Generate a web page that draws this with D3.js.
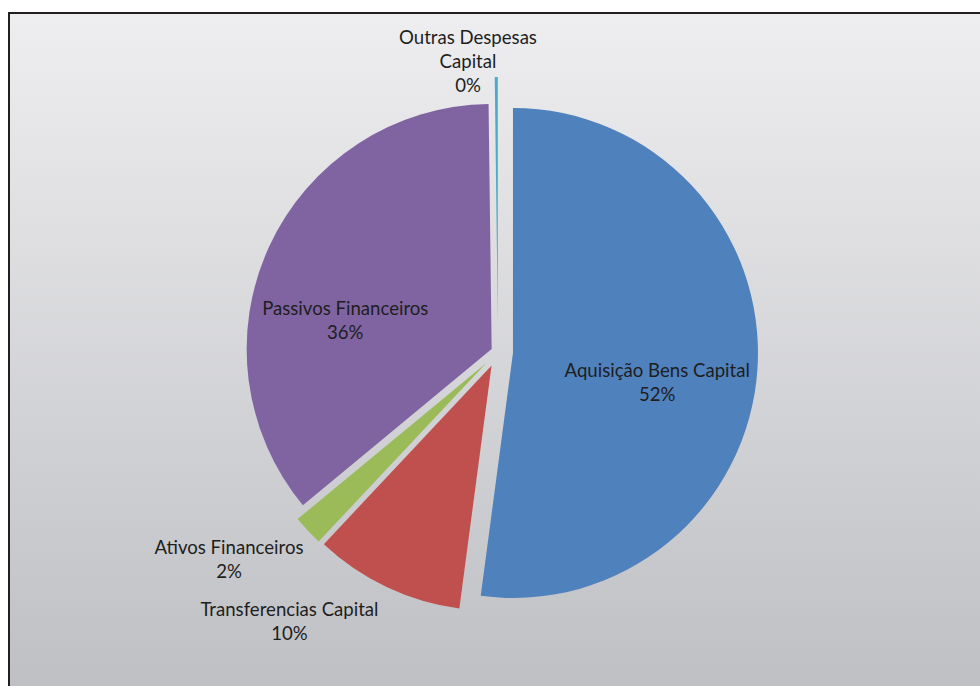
<!DOCTYPE html>
<html>
<head>
<meta charset="utf-8">
<script src="https://cdn.jsdelivr.net/npm/d3@7"></script>
<style>
	body { margin: 0; background: #fff; }
	svg { display: block; }
</style>
</head>
<body>
<svg id="chart" width="980" height="686"></svg>
<script>
// data (share of capital spending, %)
var categories = ["Aquisição Bens Capital", "Transferencias Capital", "Ativos Financeiros", "Passivos Financeiros", "Outras Despesas Capital"];
var values = [52.1, 9.9, 2.0, 35.8, 0.2];

// looks
var colours = ["#4F81BD", "#C0504D", "#9BBB59", "#8064A2", "#4BACC6"];
var explode = [15, 15, 16, 7, 30];           // px each slice is pulled out
var labelAngle = [100.7, 217.7, 232.3, 281.8, 354.1]; // degrees, clockwise from 12 o'clock
var labelRadius = [162, 341, 340, 156, 292];
var labelWrap = [300, 300, 300, 300, 150];   // max line width in px

var width = 980, height = 686;
var cx = 498, cy = 352, radius = 245;
var lineHeight = 24;

var svg = d3.select("#chart");

var grad = svg.append("defs").append("linearGradient")
	.attr("id", "bg")
	.attr("x1", 0).attr("y1", 0).attr("x2", 0).attr("y2", 1);
grad.append("stop").attr("offset", "0%").attr("stop-color", "#EEEEF0");
grad.append("stop").attr("offset", "100%").attr("stop-color", "#BEBFC3");

svg.append("rect")
	.attr("x", 9)
	.attr("y", 13)
	.attr("width", width)
	.attr("height", height)
	.style("fill", "url(#bg)")
	.style("stroke", "#231F20")
	.style("stroke-width", 2);

var data = categories.map(function(c, i) {
	return {name: c, value: values[i], i: i};
});
var total = d3.sum(values);

var pie = d3.pie()
		.sort(null)
		.value(function(d) { return d.value; });

var arc = d3.arc()
		.innerRadius(0)
		.outerRadius(radius);

var slices = svg.append("g")
		.attr("class", "slices")
		.selectAll(".slice")
		.data(pie(data))
		.enter().append("path")
		.attr("class", "slice")
		.attr("d", arc)
		.attr("transform", function(d) { //push each slice out along its middle
			var mid = (d.startAngle + d.endAngle) / 2;
			var e = explode[d.data.i];
			return "translate(" + (cx + e * Math.sin(mid)) + "," + (cy - e * Math.cos(mid)) + ")";
		})
		.style("fill", function(d) { return colours[d.data.i]; });

var labels = svg.append("g")
		.attr("class", "labels")
		.style("font-family", "Lato, 'Open Sans', sans-serif")
		.style("font-size", "18.6px")
		.style("fill", "#1e1e1e");

// splits a name into lines no wider than maxW
function wrapName(name, maxW) {
	var probe = labels.append("text");
	var words = name.split(" ");
	var lines = [];
	var line = words[0];
	for (var k = 1; k < words.length; k++) {
		probe.text(line + " " + words[k]);
		if (probe.node().getComputedTextLength() > maxW) {
			lines.push(line);
			line = words[k];
		} else {
			line = line + " " + words[k];
		}
	}
	lines.push(line);
	probe.remove();
	return lines;
}

data.forEach(function(d) {
	var a = labelAngle[d.i] * Math.PI / 180;
	var lx = cx + labelRadius[d.i] * Math.sin(a);
	var ly = cy - labelRadius[d.i] * Math.cos(a);
	var lines = wrapName(d.name, labelWrap[d.i]);
	lines.push(Math.round(d.value / total * 100) + "%");

	var t = labels.append("text")
		.attr("text-anchor", "middle");
	lines.forEach(function(s, k) {
		t.append("tspan")
			.attr("x", lx)
			.attr("y", ly + (k - (lines.length - 1) / 2) * lineHeight)
			.attr("dy", "0.35em")
			.text(s);
	});
});
</script>
</body>
</html>
